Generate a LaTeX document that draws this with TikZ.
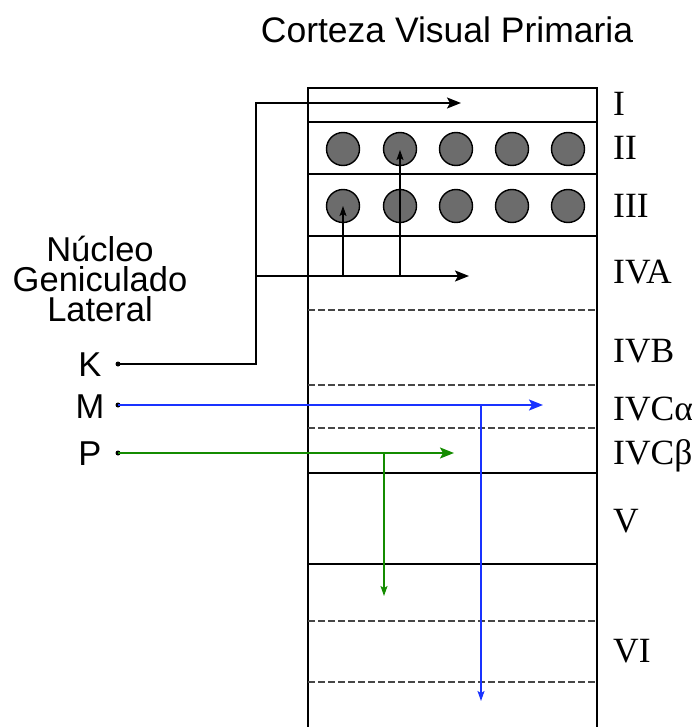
\documentclass[tikz,border=0pt]{standalone}
\usepackage{fontspec}
\setmainfont{Liberation Serif}
\setsansfont{Liberation Sans}
\usetikzlibrary{arrows.meta}
\definecolor{mblue}{RGB}{25,50,255}
\definecolor{pgreen}{RGB}{20,140,0}
\definecolor{cellgray}{RGB}{108,108,108}
\definecolor{dashgray}{RGB}{70,70,70}
\tikzset{
  solidsep/.style={line width=1.8pt, black},
  dashsep/.style={line width=1.1pt, dashgray, dash pattern=on 7pt off 3pt},
  cell/.style={circle, draw=black, line width=1.4pt, fill=cellgray, minimum size=33pt, inner sep=0pt},
  bigarrow/.style={line width=1.8pt, -{Stealth[length=14pt,width=11pt,inset=3pt]}},
  smallarrow/.style={line width=1.2pt, -{Stealth[length=10pt,width=7pt,inset=2pt]}},
  layerlab/.style={anchor=base west, font=\fontsize{35.5}{35}\selectfont, inner sep=0pt},
  sanslab/.style={font=\sffamily\fontsize{34.5}{30}\selectfont, inner sep=0pt},
  dotpt/.style={circle, fill=black, minimum size=5pt, inner sep=0pt},
}
\begin{document}
\begin{tikzpicture}[x=1pt,y=-1pt]
\useasboundingbox (0,0) rectangle (696,727);
% column
\draw[line width=1.8pt] (308,740) -- (308,88) -- (597,88) -- (597,740);
\draw[solidsep] (308,122) -- (597,122);
\draw[solidsep] (308,174) -- (597,174);
\draw[solidsep] (308,236) -- (597,236);
\draw[dashsep] (308,310) -- (597,310);
\draw[dashsep] (308,385) -- (597,385);
\draw[dashsep] (308,428) -- (597,428);
\draw[solidsep] (308,473) -- (597,473);
\draw[solidsep] (308,564) -- (597,564);
\draw[dashsep] (308,621) -- (597,621);
\draw[dashsep] (308,682) -- (597,682);
% cells
\foreach \i/\x in {1/343,2/400,3/456,4/512,5/568}{
  \node[cell] (a\i) at (\x,149) {};
  \node[cell] (b\i) at (\x,206) {};
}
% titles
\node[sanslab, anchor=base, font=\sffamily\fontsize{35.5}{30}\selectfont] (title) at (447,43) {Corteza Visual Primaria};
\node[sanslab, align=center, anchor=center] (ngl) at (100,279) {Núcleo\\Geniculado\\Lateral};
\node[sanslab, anchor=base] (lk) at (90,376) {K};
\node[sanslab, anchor=base] (lm) at (90,418) {M};
\node[sanslab, anchor=base] (lp) at (90,465) {P};
% layer labels
\node[layerlab] (l1) at (613,116) {I};
\node[layerlab] (l2) at (613,160) {II};
\node[layerlab] (l3) at (613,218) {III};
\node[layerlab] (l4a) at (613,283) {IVA};
\node[layerlab] (l4b) at (613,362) {IVB};
\node[layerlab] (l4ca) at (613,420) {IVCα};
\node[layerlab] (l4cb) at (613,464) {IVCβ};
\node[layerlab] (l5) at (613,532) {V};
\node[layerlab] (l6) at (613,662) {VI};
% K pathway
\node[dotpt] (dk) at (118,364) {};
\coordinate (k1) at (256,364);
\coordinate (k2) at (256,103);
\coordinate (kI) at (461,103);
\coordinate (kb) at (256,276);
\coordinate (kA) at (469,276);
\coordinate (v1s) at (343,276);
\coordinate (v1e) at (343,206);
\coordinate (v2s) at (400,276);
\coordinate (v2e) at (400,150);
\draw[bigarrow] (dk.center) -- (k1) -- (k2) -- (kI);
\draw[bigarrow] (kb) -- (kA);
\draw[smallarrow] (v1s) -- (v1e);
\draw[smallarrow] (v2s) -- (v2e);
% M pathway
\node[dotpt] (dm) at (118,405) {};
\coordinate (mA) at (543,405);
\coordinate (mb) at (481,405);
\coordinate (mE) at (481,701);
\draw[bigarrow, mblue, line width=2pt] (dm.center) -- (mA);
\draw[smallarrow, mblue] (mb) -- (mE);
% P pathway
\node[dotpt] (dp) at (118,453) {};
\coordinate (pA) at (454,453);
\coordinate (pb) at (384,453);
\coordinate (pE) at (384,596);
\draw[bigarrow, pgreen, line width=2pt] (dp.center) -- (pA);
\draw[smallarrow, pgreen] (pb) -- (pE);
\end{tikzpicture}
\end{document}
